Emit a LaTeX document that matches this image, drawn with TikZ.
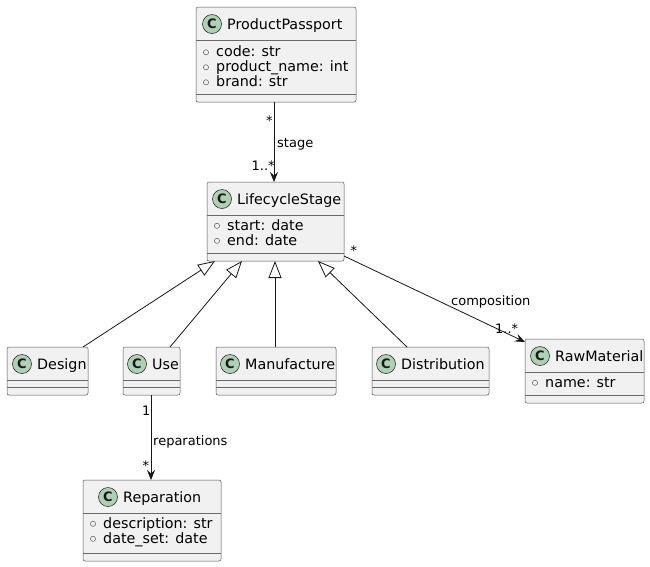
\documentclass[tikz,border=0pt]{standalone}
\usepackage{fontspec}
\setmainfont{DejaVu Sans}
\usetikzlibrary{arrows.meta,calc}
\definecolor{boxfill}{HTML}{F1F1F1}
\definecolor{boxline}{HTML}{181818}
\definecolor{iconfill}{HTML}{ADD1B2}
\tikzset{
  clsbox/.style={draw=boxline!75, fill=boxfill, line width=0.5pt, rounded corners=2pt, inner sep=0pt, outer sep=0pt, rectangle},
  clsline/.style={draw=boxline!65, line width=0.5pt},
  clsicon/.style={circle, draw=boxline, fill=iconfill, line width=0.5pt, minimum size=19pt, inner sep=0pt, font=\bfseries\fontsize{13}{13}\selectfont, text=boxline},
  clsname/.style={inner sep=0pt, font=\fontsize{14.3}{16}\selectfont},
  attrtext/.style={inner sep=0pt, font=\fontsize{14.3}{16}\selectfont},
  attrdot/.style={draw=boxline!70, line width=0.5pt},
  lbl/.style={inner sep=0pt, anchor=base west, font=\fontsize{13}{15}\selectfont},
  assoc/.style={draw=boxline, line width=0.8pt, -{Stealth[length=10pt,width=8pt,inset=3.5pt]}},
  inherit/.style={draw=boxline, line width=0.8pt, -{Triangle[open,length=17pt,width=13pt,fill=white]}}
}
% #1 id, #2 left, #3 top, #4 right, #5 bottom, #6 icon x, #7 title
\newcommand{\umlclass}[7]{%
  \node[clsbox, anchor=north west, minimum width={(#4-#2)*1pt}, minimum height={(#5-#3)*1pt}] (#1) at (#2,#3) {};
  \draw[clsline] (#2,#3+33) -- (#4,#3+33);
  \draw[clsline] (#2,#5-8) -- (#4,#5-8);
  \node[clsicon] (#1-icon) at (#6,#3+17) {C};
  \node[clsname, anchor=base west] (#1-name) at (#6+15,#3+22) {#7};
}
% #1 id, #2 left, #3 baseline, #4 text
\newcommand{\umlattr}[4]{%
  \draw[attrdot] (#2+10,#3-4.2) circle[radius=2.6pt];
  \node[attrtext, anchor=base west] (#1) at (#2+20,#3) {#4};
}
\begin{document}
\begin{tikzpicture}[x=1pt,y=-1pt]
\useasboundingbox[fill=white] (0,0) rectangle (650,566);

% classes
\umlclass{pp}{196}{7}{356}{102}{212}{ProductPassport}
\umlattr{pp-a1}{196}{56.5}{code: str}
\umlattr{pp-a2}{196}{71.5}{product\_name: int}
\umlattr{pp-a3}{196}{86.5}{brand: str}

\umlclass{ls}{207}{182}{344}{261}{222}{LifecycleStage}
\umlattr{ls-a1}{207}{230}{start: date}
\umlattr{ls-a2}{207}{245}{end: date}

\umlclass{design}{7}{347}{88}{395}{22}{Design}
\umlclass{use}{123}{347}{180}{395}{137}{Use}
\umlclass{manu}{216}{347}{336}{395}{230}{Manufacture}
\umlclass{dist}{372}{347}{489}{395}{386}{Distribution}

\umlclass{raw}{525}{339}{644}{403}{540}{RawMaterial}
\umlattr{raw-a1}{525}{387}{name: str}

\umlclass{rep}{83}{480}{221}{561}{108}{Reparation}
\umlattr{rep-a1}{83}{528}{description: str}
\umlattr{rep-a2}{83}{543}{date\_set: date}

% connectors
\draw[assoc] ($(pp.south west)+(78,0)$) -- ($(ls.north west)+(67,0)$);
\draw[inherit] ($(design.north west)+(76,0)$) -- ($(ls.south west)+(8,0)$);
\draw[inherit] ($(use.north west)+(47,0)$) -- ($(ls.south west)+(35,0)$);
\draw[inherit] ($(manu.north west)+(59,0)$) -- ($(ls.south west)+(68,0)$);
\draw[inherit] ($(dist.north west)+(35,0)$) -- ($(ls.south west)+(111,0)$);
\draw[assoc] ($(ls.south east)+(0,-5)$) -- ($(raw.north west)+(0,3)$);
\draw[assoc] ($(use.south west)+(28,0)$) -- ($(rep.north west)+(68,0)$);

% labels
\node[lbl] (l1) at (266,125) {*};
\node[lbl] (l2) at (277,147) {stage};
\node[lbl] (l3) at (251.5,170) {1..*};
\node[lbl] (l4) at (350.5,255.5) {*};
\node[lbl] (l5) at (451,305) {composition};
\node[lbl] (l6) at (495,333) {1..*};
\node[lbl] (l7) at (142,415) {1};
\node[lbl] (l8) at (153,445) {reparations};
\node[lbl] (l9) at (142.5,470) {*};
\end{tikzpicture}
\end{document}
